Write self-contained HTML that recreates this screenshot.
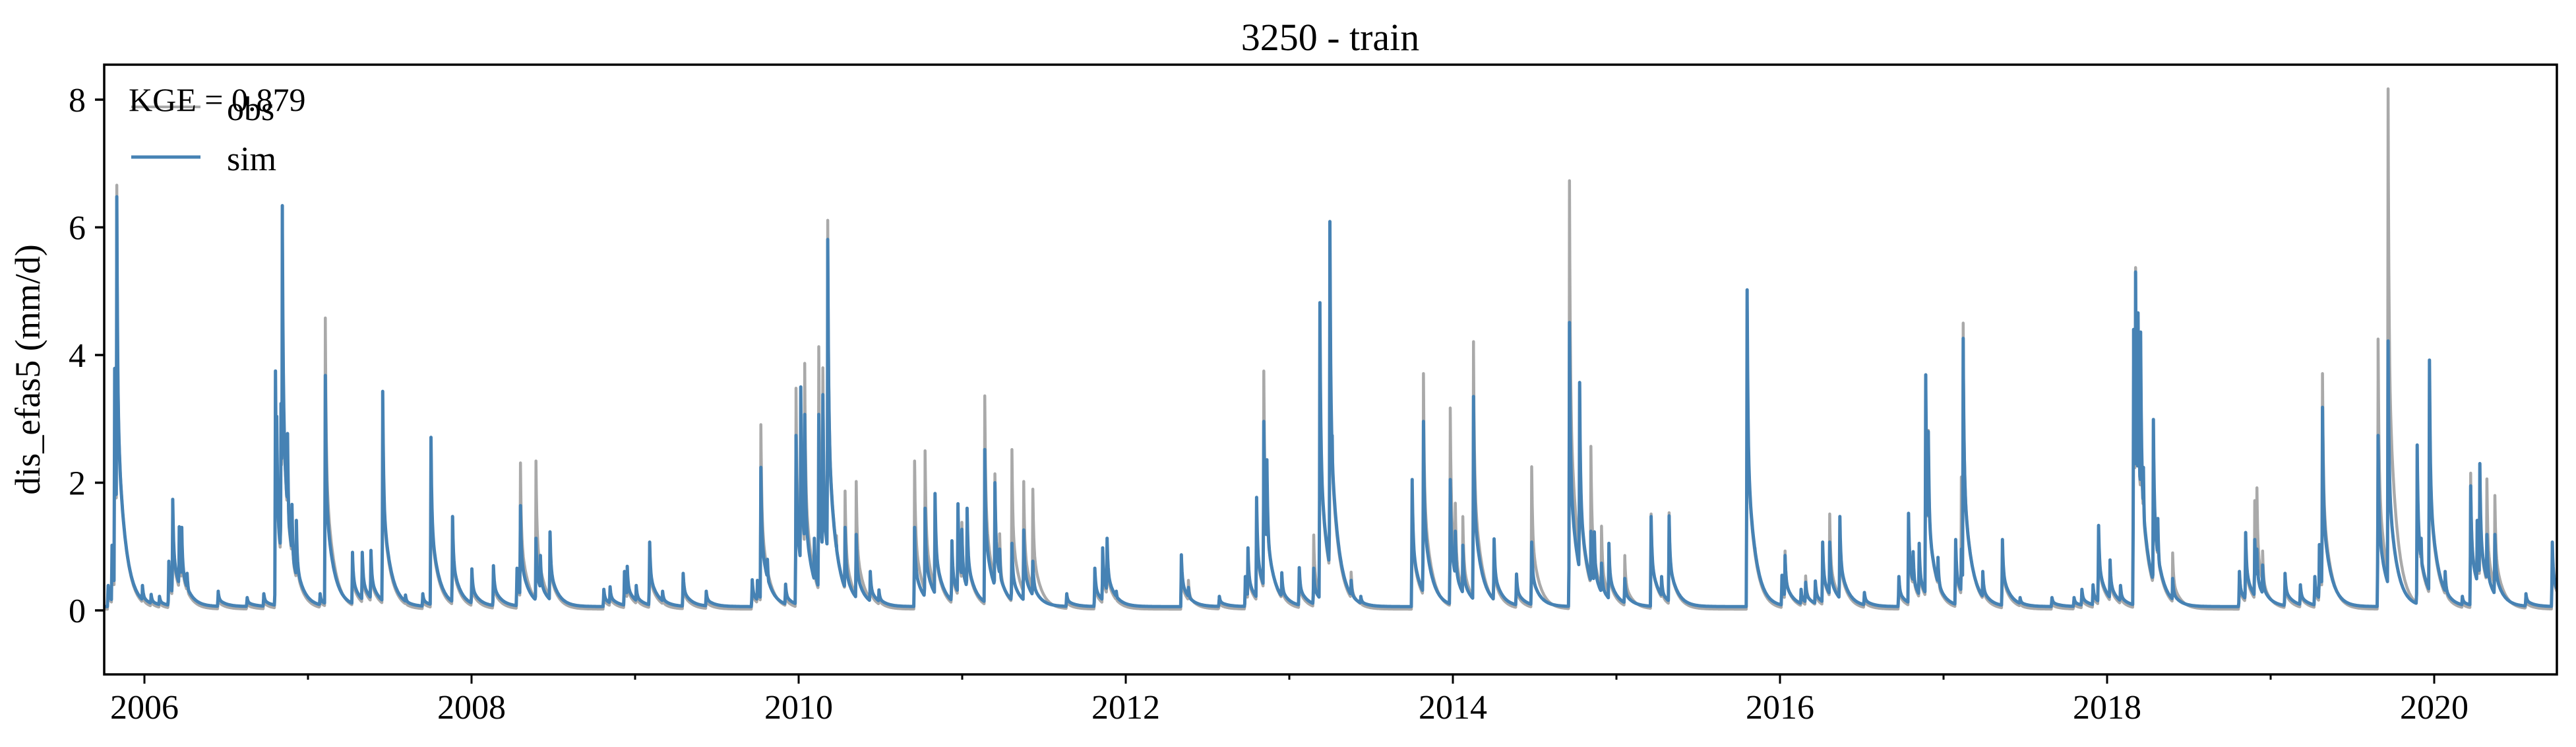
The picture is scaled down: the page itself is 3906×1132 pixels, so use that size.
<!DOCTYPE html>
<html><head><meta charset="utf-8"><style>
html,body{margin:0;padding:0;background:#fff;}
svg{display:block;font-family:"Liberation Serif",serif;}
</style></head><body>
<svg id="chart" width="3906" height="1132" viewBox="0 0 3906 1132">
<text x="2017" y="76" text-anchor="middle" font-size="58">3250 - train</text>
<text transform="translate(60,560) rotate(-90)" text-anchor="middle" font-size="54">dis_efas5 (mm/d)</text>
<g id="series"></g>
<g id="axes"></g>
<g id="legend">
<line x1="199" y1="162" x2="304" y2="162" stroke="#a9a9a9" stroke-width="4"/>
<text x="344" y="182" font-size="52">obs</text>
<line x1="199" y1="238" x2="304" y2="238" stroke="#4682b4" stroke-width="5"/>
<text x="344" y="258" font-size="52">sim</text>
<text x="195" y="168" font-size="50">KGE = 0.879</text>
</g>
</svg>
<script>
const eventTimes=[2005.778,2005.802,2005.818,2005.831,2005.921,2005.988,2006.041,2006.092,2006.149,2006.173,2006.213,2006.228,2006.261,2006.451,2006.628,2006.730,2006.801,2006.809,2006.835,2006.843,2006.875,2006.902,2006.929,2007.074,2007.106,2007.272,2007.332,2007.385,2007.457,2007.596,2007.702,2007.752,2007.884,2008.002,2008.134,2008.278,2008.299,2008.394,2008.421,2008.480,2008.809,2008.847,2008.935,2008.952,2009.007,2009.089,2009.168,2009.294,2009.435,2009.716,2009.748,2009.769,2009.809,2009.920,2009.984,2010.013,2010.037,2010.096,2010.123,2010.148,2010.178,2010.231,2010.284,2010.352,2010.438,2010.491,2010.709,2010.773,2010.834,2010.937,2010.974,2010.998,2011.030,2011.138,2011.200,2011.229,2011.304,2011.376,2011.432,2011.639,2011.811,2011.859,2011.886,2011.942,2012.340,2012.383,2012.572,2012.731,2012.747,2012.800,2012.844,2012.863,2012.954,2013.061,2013.149,2013.187,2013.248,2013.262,2013.378,2013.437,2013.751,2013.820,2013.984,2014.015,2014.061,2014.126,2014.252,2014.389,2014.482,2014.713,2014.734,2014.775,2014.844,2014.865,2014.909,2014.954,2015.051,2015.212,2015.276,2015.322,2015.799,2015.846,2016.012,2016.031,2016.129,2016.157,2016.216,2016.261,2016.304,2016.366,2016.516,2016.727,2016.786,2016.814,2016.851,2016.891,2016.907,2016.966,2017.074,2017.109,2017.120,2017.240,2017.360,2017.468,2017.663,2017.798,2017.846,2017.914,2017.948,2018.018,2018.082,2018.162,2018.174,2018.189,2018.205,2018.222,2018.283,2018.310,2018.401,2018.809,2018.847,2018.903,2018.916,2018.951,2019.088,2019.182,2019.270,2019.298,2019.317,2019.657,2019.718,2019.801,2019.896,2019.920,2019.971,2020.067,2020.172,2020.223,2020.263,2020.279,2020.322,2020.371,2020.561,2020.722];
const simPeaks=[.33,.96,3.73,6.42,.44,.33,.19,.16,.71,1.68,1.25,1.24,.52,.24,.14,.2,3.69,2.98,3.18,6.28,2.71,1.6,1.35,.2,3.62,.85,.85,.88,3.37,.18,.2,2.65,1.41,.59,.64,.6,1.58,1.07,.8,1.17,.27,.31,.55,.63,.33,1.01,.24,.52,.24,.42,.41,2.18,.74,.35,2.68,3.44,3.01,1.07,3.01,3.32,5.75,.96,1.24,1.13,.55,.26,1.24,1.54,1.77,1.03,1.61,1.21,1.54,2.46,1.94,.9,.99,1.2,.71,.2,.6,.92,1.07,.24,.81,.3,.16,.47,.92,1.71,2.9,2.3,.53,.61,.6,4.76,6.03,2.68,.41,.16,1.99,2.9,1.99,1.18,.96,3.29,1.06,.51,1.01,4.45,1.32,3.51,1.18,1.17,.68,.99,.44,1.41,.47,1.42,4.96,.92,.49,.8,.27,.38,.4,1.01,1.01,1.41,.22,.47,1.46,.86,.99,3.63,2.74,.77,1.05,.9,4.2,.55,1.05,.14,.14,.14,.27,.34,1.27,.73,.33,4.34,5.24,4.6,4.3,2.18,2.93,1.38,.44,.55,1.16,1.05,.9,.65,.52,.34,.47,.97,3.12,2.68,4.16,.26,2.53,1.07,3.86,.55,.16,1.89,1.35,2.24,1.13,1.13,.2,1.01];
const obsPeaks=[.33,.9,3.7,6.64,.4,.3,.18,.15,.7,1.6,1.2,1.2,.5,.22,.12,.18,3.6,2.9,3.1,6.2,2.7,1.6,1.3,.2,4.56,.8,.8,.85,3.3,.15,.18,2.6,1.38,.55,.6,.6,2.29,2.32,.75,1.15,.25,.3,.5,.6,.3,.95,.2,.5,.2,.4,.4,2.89,.7,.3,3.46,3.3,3.85,.9,4.11,3.78,6.09,1.15,1.85,2.0,.5,.25,2.32,2.48,1.77,1.0,1.55,1.36,1.58,3.34,2.12,1.18,2.5,2.0,1.88,.18,.55,.85,1.0,.2,.75,.45,.14,.45,.9,1.7,3.73,2.2,.5,.58,1.16,4.7,5.9,2.6,.58,.14,1.95,3.69,3.15,1.66,1.45,4.19,1.0,.48,2.23,6.71,1.3,3.45,2.55,1.1,1.3,.95,.84,1.49,.45,1.51,4.9,.9,.47,.91,.25,.52,.38,1.05,1.49,1.38,.2,.45,1.42,.85,.97,3.55,2.8,.75,1.0,2.07,4.48,.53,1.02,.12,.12,.12,.25,.32,1.25,.7,.3,4.3,5.35,4.55,4.2,2.1,2.95,1.4,.88,.53,1.12,1.7,1.9,.91,.5,.37,.45,.95,3.69,4.23,8.15,.24,2.5,1.05,3.8,.53,.14,2.13,1.33,2.2,2.04,1.78,.18,1.0];
const yTicks=[0,2,4,6,8];
const xTickYears=[2006,2007,2008,2009,2010,2011,2012,2013,2014,2015,2016,2017,2018,2019,2020];
const baseSim=0.06, baseObs=0.02;

const T0=2005.754, T1=2020.75, PX0=158, PX1=3877, PY0=98, PY1=1022;
const xS=t=>PX0+(t-T0)/(T1-T0)*(PX1-PX0);
const yS=v=>925-96.75*v;
const NS='http://www.w3.org/2000/svg';
function mk(tag,attrs,parent){const e=document.createElementNS(NS,tag);for(const k in attrs)e.setAttribute(k,attrs[k]);parent.appendChild(e);return e;}

function peakPath(peaks,base){
  const day=1/365.25;const arr=[];
  for(let t=T0;t<=T1+1e-9;t+=day)arr.push(t);
  for(let i=0;i<eventTimes.length;i++)arr.push(eventTimes[i]);
  arr.sort((a,b)=>a-b);
  return arr.map(t=>{
    let m=0;
    for(let i=0;i<eventTimes.length;i++){
      const d=(t-eventTimes[i])*365.25;
      let f=0;
      if(d>=-1.5&&d<-1e-6)f=(1+d/1.5)*0.9;
      else if(d>=-1e-6&&d<150){const dd=Math.max(d,0);f=0.5*Math.exp(-dd/1.8)+0.5*Math.exp(-dd/17);}
      const v=peaks[i]*f;if(v>m)m=v;
    }
    return xS(t).toFixed(1)+','+yS(base+m).toFixed(1);
  }).join(' ');
}
const sg=document.getElementById('series');
const clip=mk('clipPath',{id:'plotclip'},sg);
mk('rect',{x:PX0,y:PY0,width:PX1-PX0,height:PY1-PY0},clip);
const obsLine=mk('polyline',{points:peakPath(obsPeaks,baseObs),fill:'none',stroke:'#a9a9a9','stroke-width':4.5,'stroke-linejoin':'round','clip-path':'url(#plotclip)'},sg);


const simLine=mk('polyline',{points:peakPath(simPeaks,baseSim),fill:'none',stroke:'#4682b4','stroke-width':5,'stroke-linejoin':'round','clip-path':'url(#plotclip)'},sg);



const ax=document.getElementById('axes');
const frame=mk('rect',{x:PX0,y:PY0,width:PX1-PX0,height:PY1-PY0,fill:'none',stroke:'#000','stroke-width':3.5},ax);


yTicks.forEach(v=>{
  const tk=mk('line',{x1:PX0-14,x2:PX0,y1:yS(v),y2:yS(v),stroke:'#000','stroke-width':3.5},ax);
  
  
  const lb=mk('text',{x:PX0-28,y:yS(v)+18,'text-anchor':'end','font-size':52},ax);
  lb.textContent=String(v);
  
  
});
xTickYears.forEach(yr=>{
  const major=yr%2===0;const x=xS(yr);
  const tk=mk('line',{x1:x,x2:x,y1:PY1,y2:PY1+(major?14:8),stroke:'#000','stroke-width':3},ax);
  
  
  if(major){
    const lb=mk('text',{x:x,y:1089,'text-anchor':'middle','font-size':52},ax);
    lb.textContent=String(yr);
    
    
  }
});
</script>
</body></html>
